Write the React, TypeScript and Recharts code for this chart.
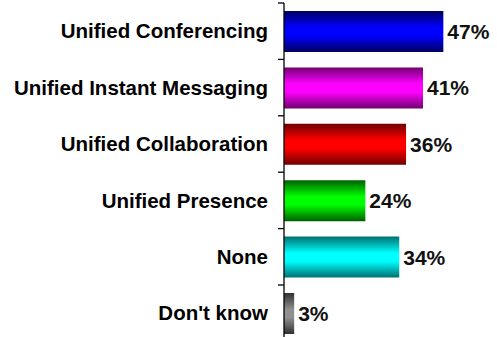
import { BarChart, Bar, XAxis, YAxis, Cell, LabelList } from 'recharts';

const categories = [
  'Unified Conferencing',
  'Unified Instant Messaging',
  'Unified Collaboration',
  'Unified Presence',
  'None',
  "Don't know",
];
const values = [47, 41, 36, 24, 34, 3];
// [edge, middle] colours of each cylinder-like bar
const barColors = [
  ['#000060', '#0000ff'],
  ['#700070', '#ff00ff'],
  ['#700000', '#ff0000'],
  ['#006000', '#00ff00'],
  ['#007070', '#00ffff'],
  ['#303030', '#909090'],
];

const data = categories.map((name, i) => ({ name, value: values[i] }));

const AXIS_X = 284;
const PLOT_TOP = 3;
const PLOT_H = 338.4;
const BAND = PLOT_H / categories.length;
const FONT = '"Liberation Sans", Arial, Helvetica, sans-serif';

const CategoryTick = (props: any) => {
  const { y, payload } = props;
  return (
    <g>
      <line x1={AXIS_X - 6} x2={AXIS_X} y1={y - BAND / 2} y2={y - BAND / 2} stroke="#000" strokeWidth={1.3} />
      <text
        x={AXIS_X - 16}
        y={y}
        dy="0.35em"
        textAnchor="end"
        fontFamily={FONT}
        fontWeight="bold"
        fontSize={20.5}
        fill="#000"
      >
        {payload.value}
      </text>
    </g>
  );
};

export default function App() {
  return (
    <div style={{ position: 'absolute', left: 0, top: 0, width: 497, height: 337, overflow: 'hidden', background: '#fff' }}>
      <BarChart
        width={497}
        height={345}
        data={data}
        layout="vertical"
        margin={{ top: PLOT_TOP, right: 43.5, bottom: 345 - PLOT_TOP - PLOT_H, left: 0 }}
        barSize={41}
      >
        <defs>
          {barColors.map(([edge, mid], i) => (
            <linearGradient key={i} id={`bar-grad-${i}`} x1="0" y1="0" x2="0" y2="1">
              <stop offset="0%" stopColor={edge} />
              <stop offset="40%" stopColor={mid} />
              <stop offset="60%" stopColor={mid} />
              <stop offset="100%" stopColor={edge} />
            </linearGradient>
          ))}
        </defs>
        <XAxis type="number" domain={[0, 50]} hide />
        <YAxis
          type="category"
          dataKey="name"
          width={AXIS_X}
          tickLine={false}
          axisLine={{ stroke: '#000', strokeWidth: 1.3 }}
          tick={<CategoryTick />}
          interval={0}
        />
        <Bar dataKey="value" isAnimationActive={false}>
          {data.map((_, i) => (
            <Cell key={i} fill={`url(#bar-grad-${i})`} />
          ))}
          <LabelList
            dataKey="value"
            position="right"
            offset={4}
            formatter={(v: any) => `${v}%`}
            fontFamily={FONT}
            fontWeight="bold"
            fontSize={21}
            fill="#111"
          />
        </Bar>
      </BarChart>
    </div>
  );
}
